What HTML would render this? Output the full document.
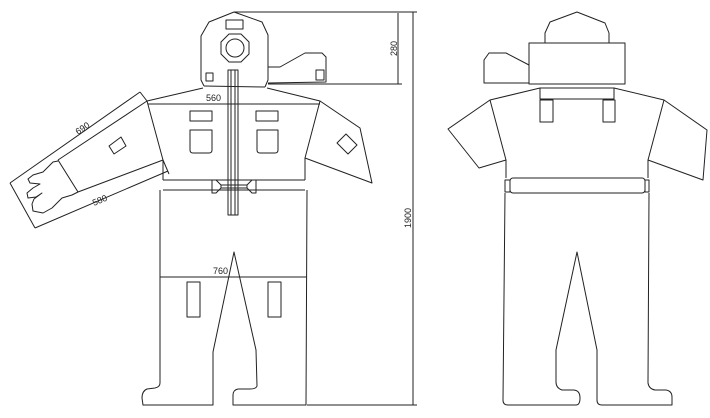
<!DOCTYPE html>
<html><head><meta charset="utf-8"><style>
html,body{margin:0;padding:0;background:#fff;}
svg{display:block;}
text{font-family:"Liberation Sans",sans-serif;font-size:9px;fill:#222;}
</style></head><body>
<svg width="710" height="418" viewBox="0 0 710 418" xmlns="http://www.w3.org/2000/svg">
<g fill="none" stroke="#222" stroke-width="1" stroke-linejoin="round">
<!-- FRONT: hood -->
<polyline points="204,86 201,80 201,36 209,22 234,12 262,22 268,35 268,80 265,87"/>
<line x1="204" y1="86" x2="265" y2="87"/>
<rect x="226" y="20" width="17" height="9"/>
<polygon points="229,34 241,34 249,42 249,54 241,62 229,62 221,54 221,42"/>
<circle cx="235" cy="48" r="9"/>
<rect x="206" y="73" width="7" height="8"/>
<polyline points="268,67 280,67 305,53 322,53 326,57 326,82 268,83"/>
<rect x="316" y="70" width="8" height="10"/>
<!-- zipper -->
<rect x="228" y="70" width="10" height="145"/>
<line x1="231" y1="70" x2="231" y2="215"/><line x1="235" y1="70" x2="235" y2="215"/>
<!-- shoulders / torso -->
<polyline points="203,88 147,101 163,160 163,180"/>
<polyline points="267,88 320,101 305,158 305,180"/>
<!-- right arm -->
<polyline points="320,101 360,128 372,183 305,158"/>
<polygon points="337,143 346,134 357,145 348,154"/>
<!-- left arm -->
<polyline points="147,101 58,160"/>
<polyline points="163,160 78,192"/>
<line x1="58" y1="160" x2="78" y2="192"/>
<path d="M58,161 L53,162 L48,167 L43,172 L33,175 L28,179 L30,183 L40,184 L33,188 L27,193 L28,198 L36,197 L42,193 L34,199 L32,204 L33,211 L43,213 L52,208 L62,198 L72,195 L78,192"/>
<polygon points="109,146 121,137 126,146 114,154"/>
<!-- 690 / 580 dims -->
<line x1="140" y1="92" x2="10" y2="183"/>
<line x1="140" y1="92" x2="147" y2="101"/>
<line x1="10" y1="183" x2="35" y2="228"/>
<line x1="168" y1="171" x2="35" y2="228"/>
<line x1="163" y1="160" x2="169" y2="174"/>
<!-- 560 dim -->
<line x1="148" y1="104" x2="320" y2="104"/>
<!-- pockets -->
<rect x="190" y="111" width="22" height="10"/>
<path d="M190,130 H212 V150 Q212,153 209,153 H193 Q190,153 190,150 Z"/>
<rect x="256" y="111" width="22" height="10"/>
<path d="M257,130 H278 V150 Q278,153 275,153 H260 Q257,153 257,150 Z"/>
<!-- belt -->
<line x1="163" y1="180" x2="305" y2="180"/>
<line x1="163" y1="190" x2="305" y2="190"/>
<polygon points="212,180 216,180 221,185 221,188 216,193 212,193"/>
<polygon points="256,180 252,180 247,185 247,188 252,193 256,193"/>
<line x1="221" y1="185" x2="247" y2="185"/><line x1="221" y1="188" x2="247" y2="188"/>
<!-- pants front -->
<path d="M160,190 L160,383 Q160,387 155,388 L147,389 Q142,391 142,398 L143,405 L213,405 L213,352 L234,252 L256,350 L257,386 Q256,389 250,389 L238,389 Q233,390 233,395 L233,405 L306,405 L307,190"/>
<line x1="160" y1="277" x2="307" y2="277"/>
<rect x="187" y="282" width="13" height="35"/>
<rect x="268" y="282" width="13" height="35"/>
<!-- dims right -->
<line x1="234" y1="12" x2="417" y2="12"/>
<line x1="268" y1="84" x2="402" y2="84"/>
<line x1="398" y1="13" x2="398" y2="84"/>
<line x1="413" y1="12" x2="413" y2="405"/>
<line x1="307" y1="405" x2="417" y2="405"/>
<!-- BACK -->
<polyline points="545,43 545,33 550,22 577,12 605,23 609,33 609,43"/>
<rect x="529" y="43" width="96" height="41"/>
<polyline points="529,65 506,53 489,53 484,60 484,83 529,83"/>
<rect x="540" y="88" width="74" height="11"/>
<rect x="540" y="100" width="13" height="22"/>
<rect x="603" y="100" width="12" height="22"/>
<polyline points="540,88 490,100 448,129 479,168 506,160"/>
<polyline points="490,100 506,160 506,178"/>
<polyline points="614,88 664,100 707,130 703,180 648,160"/>
<polyline points="664,100 648,160 648,178"/>
<rect x="510" y="178" width="135" height="15" rx="3"/>
<rect x="505" y="180" width="5" height="12"/>
<rect x="645" y="180" width="4" height="12"/>
<path d="M505,193 L503,400 Q503,405 508,405 L576,405 Q580,405 580,398 Q580,390 573,390 L562,390 Q556,388 556,382 L556,350 L577,252 L597,350 L597,400 Q597,405 602,405 L672,405 L672,397 Q672,391 666,390 L655,390 Q649,389 648,383 L649,193"/>
</g>
<text x="206" y="101">560</text>
<text x="213" y="274">760</text>
<text transform="translate(78,135) rotate(-34)">690</text>
<text transform="translate(94,206) rotate(-23)">580</text>
<text transform="translate(397,56) rotate(-90)">280</text>
<text transform="translate(411,228) rotate(-90)">1900</text>
</svg>
</body></html>
